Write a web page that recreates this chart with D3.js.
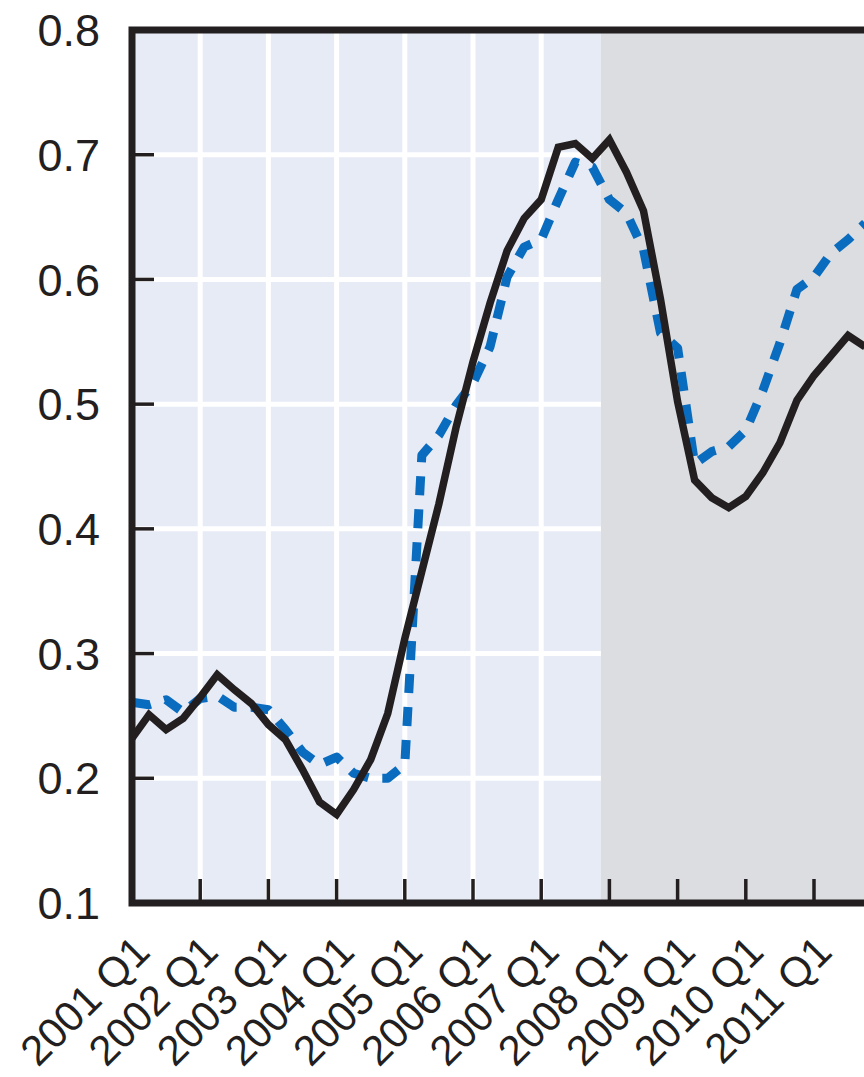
<!DOCTYPE html>
<html>
<head>
<meta charset="utf-8">
<script src="https://cdn.jsdelivr.net/npm/d3@7"></script>
<style>
  html, body { margin: 0; padding: 0; background: #ffffff; overflow: hidden; }
  svg { display: block; }
  text { font-family: "Liberation Sans", Arial, sans-serif; fill: #231f20; }
</style>
</head>
<body>
<svg id="chart" width="864" height="1077"></svg>
<script>
// ---- data ----
const years = [2001, 2002, 2003, 2004, 2005, 2006, 2007, 2008, 2009, 2010, 2011];
const quarters = years.flatMap(y => ["Q1", "Q2", "Q3", "Q4"].map(q => y + " " + q));
const tickLabels = years.map(y => y + " Q1");
const yTicks = [0.1, 0.2, 0.3, 0.4, 0.5, 0.6, 0.7, 0.8];
const gridYears = ["2002 Q1", "2003 Q1", "2004 Q1", "2005 Q1", "2006 Q1", "2007 Q1"];
const shadeStartQuarter = "2007 Q4"; // shading starts half a quarter after this

const solidSeries = [
  0.232, 0.251, 0.239, 0.248,
  0.265, 0.283, 0.271, 0.260,
  0.243, 0.231, 0.207, 0.181,
  0.171, 0.191, 0.215, 0.252,
  0.312, 0.366, 0.420, 0.481,
  0.534, 0.581, 0.623, 0.649,
  0.664, 0.706, 0.709, 0.697,
  0.712, 0.686, 0.655, 0.584,
  0.502, 0.439, 0.425, 0.417,
  0.426, 0.445, 0.469, 0.503,
  0.523, 0.539, 0.555, 0.546
];
const dashedSeries = [
  0.261, 0.259, 0.263, 0.253,
  0.264, 0.266, 0.257, 0.257,
  0.255, 0.239, 0.221, 0.211,
  0.217, 0.204, 0.200, 0.200,
  0.211, 0.459, 0.475, 0.499,
  0.517, 0.546, 0.602, 0.626,
  0.632, 0.664, 0.694, 0.690,
  0.664, 0.653, 0.624, 0.557,
  0.545, 0.452, 0.462, 0.466,
  0.479, 0.511, 0.549, 0.592,
  0.602, 0.621, 0.632, 0.645
];

// ---- layout ----
const svg = d3.select("#chart");
const padLeft = 132, padTop = 30, padBottom = 903;
const step = 17.05;
const idx = q => quarters.indexOf(q);
const x = d3.scaleLinear().domain([0, 44]).range([padLeft, padLeft + 44 * step]);
const y = d3.scaleLinear().domain([0.1, 0.8]).range([padBottom, padTop]);
const rightEdge = 900;
const shadeX = x(idx(shadeStartQuarter) + 0.5);

// backgrounds
svg.append("rect").attr("x", padLeft).attr("y", padTop).attr("width", shadeX - padLeft).attr("height", padBottom - padTop).attr("fill", "#e7ebf6");
svg.append("rect").attr("x", shadeX).attr("y", padTop).attr("width", rightEdge - shadeX).attr("height", padBottom - padTop).attr("fill", "#dcdde0");

// gridlines (only in light area)
svg.append("g").selectAll("line").data(yTicks.slice(1, -1)).join("line")
  .attr("x1", padLeft).attr("x2", shadeX)
  .attr("y1", d => y(d)).attr("y2", d => y(d))
  .attr("stroke", "#ffffff").attr("stroke-width", 5);
svg.append("g").selectAll("line").data(gridYears).join("line")
  .attr("x1", d => x(idx(d))).attr("x2", d => x(idx(d)))
  .attr("y1", padTop).attr("y2", padBottom)
  .attr("stroke", "#ffffff").attr("stroke-width", 5);

// lines
const line = d3.line().x((d, i) => x(i)).y(d => y(d));
svg.append("path").datum(dashedSeries).attr("d", line)
  .attr("fill", "none").attr("stroke", "#0a6cbf").attr("stroke-width", 9)
  .attr("stroke-dasharray", "19,14").attr("stroke-linejoin", "round");
svg.append("path").datum(solidSeries).attr("d", line)
  .attr("fill", "none").attr("stroke", "#231f20").attr("stroke-width", 7.5)
  .attr("stroke-linejoin", "miter");

// ticks
svg.append("g").selectAll("line").data(yTicks.slice(1, -1)).join("line")
  .attr("x1", padLeft).attr("x2", padLeft + 22)
  .attr("y1", d => y(d)).attr("y2", d => y(d))
  .attr("stroke", "#231f20").attr("stroke-width", 3.5);
svg.append("g").selectAll("line").data(tickLabels.slice(1).concat(["2012 Q1"])).join("line")
  .attr("x1", (d, i) => x((i + 1) * 4)).attr("x2", (d, i) => x((i + 1) * 4))
  .attr("y1", padBottom).attr("y2", padBottom - 24)
  .attr("stroke", "#231f20").attr("stroke-width", 3.5);

// frame
svg.append("path")
  .attr("d", `M${rightEdge},${padTop} L${padLeft},${padTop} L${padLeft},${padBottom} L${rightEdge},${padBottom}`)
  .attr("fill", "none").attr("stroke", "#231f20").attr("stroke-width", 7)
  .attr("stroke-linejoin", "miter");

// y labels
svg.append("g").selectAll("text").data(yTicks).join("text")
  .attr("x", 100).attr("y", d => y(d))
  .attr("dy", "0.36em")
  .attr("text-anchor", "end")
  .attr("font-size", 45)
  .text(d => d.toFixed(1));

// x labels
svg.append("g").selectAll("text").data(tickLabels).join("text")
  .attr("transform", d => `translate(${x(idx(d)) + 20},${954}) rotate(-45)`)
  .attr("text-anchor", "end")
  .attr("font-size", 42)
  .text(d => d);
</script>
</body>
</html>
